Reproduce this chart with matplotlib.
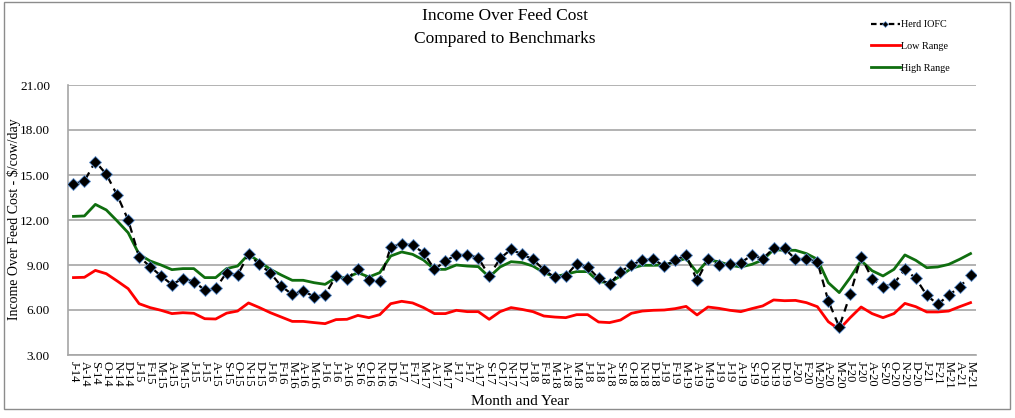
import matplotlib
matplotlib.use("Agg")
import matplotlib.pyplot as plt
from matplotlib.patches import Rectangle
from matplotlib.lines import Line2D

plt.rcParams['font.family'] = ['Liberation Serif', 'DejaVu Serif']

# month labels Jul 2014 .. May 2021
month_letters = ["J", "F", "M", "A", "M", "J", "J", "A", "S", "O", "N", "D"]
months = [month_letters[(6 + k) % 12] + "-" + str(14 + (6 + k) // 12) for k in range(83)]

herd_iofc = [14.4, 14.6, 15.9, 15.05, 13.65, 12.0, 9.55, 8.9, 8.27, 7.7,
             8.1, 7.9, 7.33, 7.44, 8.5, 8.33, 9.71, 9.04, 8.47, 7.58,
             7.04, 7.27, 6.89, 7.0, 8.27, 8.04, 8.76, 7.98, 7.93, 10.18,
             10.42, 10.31, 9.82, 8.71, 9.27, 9.67, 9.67, 9.49, 8.27, 9.44,
             10.04, 9.71, 9.38, 8.67, 8.18, 8.27, 9.09, 8.87, 8.11, 7.71,
             8.56, 9.0, 9.33, 9.38, 8.93, 9.31, 9.67, 7.98, 9.38, 9.02,
             9.04, 9.16, 9.64, 9.42, 10.11, 10.11, 9.38, 9.42, 9.22, 6.6,
             4.87, 7.04, 9.55, 8.1, 7.53, 7.76, 8.71, 8.11, 6.98, 6.38,
             6.98, 7.53, 8.31]

low_range = [8.16, 8.18, 8.64, 8.42, 7.93, 7.42, 6.42, 6.16, 5.98, 5.76,
             5.82, 5.78, 5.42, 5.4, 5.79, 5.93, 6.47, 6.16, 5.82, 5.53,
             5.24, 5.24, 5.16, 5.09, 5.36, 5.38, 5.64, 5.49, 5.69, 6.42,
             6.58, 6.47, 6.16, 5.76, 5.76, 5.98, 5.89, 5.89, 5.38, 5.89,
             6.16, 6.04, 5.89, 5.6, 5.53, 5.49, 5.69, 5.69, 5.2, 5.16,
             5.33, 5.78, 5.93, 5.98, 6.0, 6.09, 6.24, 5.67, 6.2, 6.11,
             5.98, 5.89, 6.09, 6.27, 6.67, 6.62, 6.64, 6.49, 6.22, 5.22,
             4.71, 5.49, 6.2, 5.76, 5.49, 5.76, 6.44, 6.22, 5.87, 5.87,
             5.93, 6.22, 6.49]

high_range = [12.24, 12.27, 13.04, 12.67, 11.93, 11.15, 9.71, 9.27, 9.0, 8.69,
              8.76, 8.76, 8.16, 8.16, 8.76, 8.93, 9.71, 9.22, 8.71, 8.33,
              7.98, 7.98, 7.82, 7.71, 8.16, 8.16, 8.49, 8.2, 8.49, 9.6,
              9.87, 9.71, 9.33, 8.71, 8.71, 9.0, 8.93, 8.89, 8.2, 8.87,
              9.22, 9.16, 8.93, 8.49, 8.22, 8.38, 8.56, 8.56, 7.89, 7.82,
              8.27, 8.78, 8.98, 8.98, 9.0, 9.22, 9.44, 8.49, 9.33, 9.22,
              8.98, 8.87, 9.04, 9.33, 10.02, 9.98, 9.98, 9.76, 9.38, 7.82,
              7.16, 8.16, 9.29, 8.62, 8.27, 8.71, 9.67, 9.31, 8.82, 8.87,
              9.04, 9.38, 9.76]

W, H = 1015, 418
fig = plt.figure(figsize=(W / 100, H / 100), dpi=100)
ax = fig.add_axes([68 / W, 1 - 355 / H, (976 - 68) / W, (355 - 85) / H])

x = list(range(len(months)))
ax.plot(x, low_range, color="#ff0000", lw=2, zorder=3, label="Low Range")
ax.plot(x, high_range, color="#0f6e0f", lw=2, zorder=3, label="High Range")
ax.plot(x, herd_iofc, color="black", ls=(0, (3.5, 2.5)), lw=1.6, marker="D",
        markersize=6.5, markerfacecolor="black", markeredgecolor="#5b8fd0",
        markeredgewidth=0.6, zorder=4, label="Herd IOFC")

ax.set_xlim(-0.5, len(months) - 0.5)
ax.set_ylim(3, 21)
ax.set_yticks([3, 6, 9, 12, 15, 18, 21])
ax.set_yticklabels(["%.2f" % v for v in [3, 6, 9, 12, 15, 18, 21]], fontsize=9.5)
ax.set_xticks(x)
ax.set_xticklabels(months, rotation=-90, fontsize=9, va="top", ha="center")
ax.tick_params(axis="both", length=0)
ax.tick_params(axis="y", pad=13)
ax.tick_params(axis="x", pad=4)
ax.yaxis.grid(True, color="#a6a6a6", lw=1.2)
ax.set_axisbelow(True)
for s in ["top", "right"]:
    ax.spines[s].set_visible(False)
for s in ["left", "bottom"]:
    ax.spines[s].set_color("#a6a6a6")
    ax.spines[s].set_linewidth(1.2)

fig.text(14 / W, 1 - 219 / H, "Income Over Feed Cost - $/cow/day", rotation=90,
         ha="center", va="center", fontsize=10)
fig.text(520 / W, 1 - 408 / H, "Month and Year", ha="center", va="bottom", fontsize=11)
fig.text(505 / W, 1 - 16 / H, "Income Over Feed Cost", ha="center", va="center", fontsize=12.5)
fig.text(505 / W, 1 - 39 / H, "Compared to Benchmarks", ha="center", va="center", fontsize=12.5)

# legend
handles = [
    Line2D([], [], color="black", ls=(0, (2.5, 1.5)), lw=1.6, marker="D", markersize=3,
           markerfacecolor="black", markeredgecolor="#5b8fd0", markeredgewidth=0.5),
    Line2D([], [], color="#ff0000", lw=2),
    Line2D([], [], color="#0f6e0f", lw=2),
]
fig.legend(handles, ["Herd IOFC", "Low Range", "High Range"], loc="upper left",
           bbox_to_anchor=(862 / W, 1 - 11 / H), frameon=False, fontsize=7.3,
           handlelength=2.8, handletextpad=0.15, labelspacing=1.25)

# outer chart frame
fig.patches.append(Rectangle((4 / W, 1 - 409 / H), 1006 / W, 407 / H,
                             transform=fig.transFigure, fill=False,
                             edgecolor="#8c8c8c", lw=1.0))

fig.savefig("out.png", dpi=100)
